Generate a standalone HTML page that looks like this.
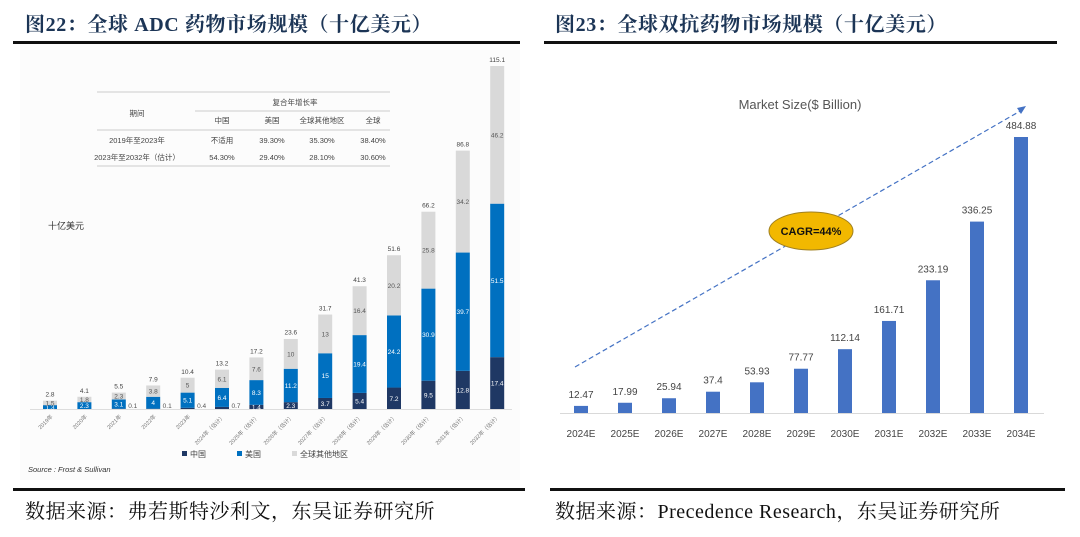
<!DOCTYPE html>
<html><head><meta charset="utf-8">
<style>
body{margin:0;width:1080px;height:537px;background:#fff;overflow:hidden;position:relative;font-family:"Liberation Serif","Noto Serif CJK SC",serif}
.t{position:absolute;font-weight:bold;font-size:20px;letter-spacing:0.6px;color:#1c3556;top:8px;white-space:nowrap}
.ln{position:absolute;height:3px;background:#111}
.f{position:absolute;top:495px;font-size:20px;letter-spacing:0.5px;color:#111;white-space:nowrap}
svg{position:absolute;left:0;top:0}
</style></head><body>
<div class="t" style="left:25px">图22：全球 ADC 药物市场规模（十亿美元）</div>
<div class="t" style="left:555px">图23：全球双抗药物市场规模（十亿美元）</div>
<div class="ln" style="left:13px;width:507px;top:41px"></div>
<div class="ln" style="left:544px;width:513px;top:41px"></div>
<div class="ln" style="left:13px;width:512px;top:488px"></div>
<div class="ln" style="left:550px;width:515px;top:488px"></div>
<div class="f" style="left:25px">数据来源：弗若斯特沙利文，东吴证券研究所</div>
<div class="f" style="left:555px">数据来源：Precedence Research，东吴证券研究所</div>
<svg id="s" width="1080" height="537" font-family="Liberation Sans, Noto Sans CJK SC, sans-serif">
<rect x="20" y="50" width="500" height="430" fill="#fcfcfc"/>
<g font-size="7.5" fill="#444" text-anchor="middle">
<line x1="97" y1="92" x2="390" y2="92" stroke="#ccc"/>
<line x1="195" y1="111" x2="390" y2="111" stroke="#ccc"/>
<line x1="97" y1="130" x2="390" y2="130" stroke="#ccc"/>
<line x1="97" y1="166" x2="390" y2="166" stroke="#ccc"/>
<text x="137" y="116">期间</text><text x="295" y="105">复合年增长率</text>
<text x="222" y="123">中国</text><text x="272" y="123">美国</text><text x="322" y="123">全球其他地区</text><text x="373" y="123">全球</text>
<text x="137" y="143">2019年至2023年</text><text x="222" y="143">不适用</text><text x="272" y="143">39.30%</text><text x="322" y="143">35.30%</text><text x="373" y="143">38.40%</text>
<text x="137" y="160">2023年至2032年（估计）</text><text x="222" y="160">54.30%</text><text x="272" y="160">29.40%</text><text x="322" y="160">28.10%</text><text x="373" y="160">30.60%</text>
</g>
<text x="48" y="229" font-size="9" fill="#333">十亿美元</text>
<line x1="30" y1="409.5" x2="512" y2="409.5" stroke="#ddd"/>
<g id="L"></g>
<g font-size="8" fill="#444">
<rect x="182" y="451" width="5" height="5" fill="#1f3864"/><text x="190" y="457">中国</text>
<rect x="237" y="451" width="5" height="5" fill="#0070c0"/><text x="245" y="457">美国</text>
<rect x="292" y="451" width="5" height="5" fill="#d9d9d9"/><text x="300" y="457">全球其他地区</text>
</g>
<text x="28" y="472" font-size="7.5" font-style="italic" fill="#333">Source :  Frost &amp; Sullivan</text>
<text x="800" y="109" font-size="13" fill="#555" text-anchor="middle">Market Size($ Billion)</text>
<line x1="560" y1="413.5" x2="1044" y2="413.5" stroke="#d9d9d9"/>
<g id="R"></g>
<line x1="575" y1="367" x2="1022" y2="110" stroke="#4472c4" stroke-dasharray="5,3" stroke-width="1.2"/>
<polygon points="1026,106 1017,108 1021,114" fill="#4472c4"/>
<ellipse cx="811" cy="231" rx="42" ry="19" fill="#f2b800" stroke="#a08020"/>
<text x="811" y="235" font-size="11" font-weight="bold" text-anchor="middle" fill="#111">CAGR=44%</text>
</svg>
<script>
const lYears=["2019年","2020年","2021年","2022年","2023年","2024年（估计）","2025年（估计）","2026年（估计）","2027年（估计）","2028年（估计）","2029年（估计）","2030年（估计）","2031年（估计）","2032年（估计）"];
const china=[0,0,0.1,0.1,0.4,0.7,1.4,2.3,3.7,5.4,7.2,9.5,12.8,17.4];
const usa=[1.3,2.3,3.1,4,5.1,6.4,8.3,11.2,15,19.4,24.2,30.9,39.7,51.5];
const other=[1.5,1.8,2.3,3.8,5,6.1,7.6,10,13,16.4,20.2,25.8,34.2,46.2];
const totals=[2.8,4.1,5.5,7.9,10.4,13.2,17.2,23.6,31.7,41.3,51.6,66.2,86.8,115.1];
const rYears=["2024E","2025E","2026E","2027E","2028E","2029E","2030E","2031E","2032E","2033E","2034E"];
const rVals=[12.47,17.99,25.94,37.4,53.93,77.77,112.14,161.71,233.19,336.25,484.88];
const NS="http://www.w3.org/2000/svg";
function mk(p,tag,a,txt){const e=document.createElementNS(NS,tag);for(const k in a)e.setAttribute(k,a[k]);if(txt!==undefined)e.textContent=txt;p.appendChild(e);return e;}
const L=document.getElementById('L');
const lx=i=>50+i*34.4, ly=v=>409-v*343/115.1;
lYears.forEach((y,i)=>{
  const x=lx(i)-7;let b=0;
  [[china[i],'#1f3864','china'],[usa[i],'#0070c0','usa'],[other[i],'#d9d9d9','other']].forEach(([v,c,n])=>{
    if(v<=0)return;
    const r=mk(L,'rect',{x:x,y:ly(b+v),width:14,height:ly(b)-ly(b+v),fill:c});
    
    
    const small=(n==='china'&&v<1);
    if(small){const t=mk(L,'text',{x:lx(i)+14,y:ly(0)-1,'font-size':6.5,fill:'#555','text-anchor':'middle'},String(v));
      }
    else if(v>=1.3){const t=mk(L,'text',{x:lx(i),y:(ly(b)+ly(b+v))/2+2.5,'font-size':6.5,fill:n==='other'?'#555':'#fff','text-anchor':'middle'},String(v));
      }
    b+=v;
  });
  const t=mk(L,'text',{x:lx(i),y:ly(totals[i])-4,'font-size':6.5,fill:'#444','text-anchor':'middle'},String(totals[i]));
  
  const a=mk(L,'text',{transform:`translate(${lx(i)+3},417) rotate(-45)`,'font-size':5.5,fill:'#777','text-anchor':'end'},y);
  
});
const R=document.getElementById('R');
const rx=i=>581+i*44, ry=v=>413-v*276/484.88;
rYears.forEach((y,i)=>{
  const r=mk(R,'rect',{x:rx(i)-7,y:ry(rVals[i]),width:14,height:413-ry(rVals[i]),fill:'#4472c4'});
  
  const t=mk(R,'text',{x:rx(i),y:ry(rVals[i])-8,'font-size':10,fill:'#444','text-anchor':'middle'},String(rVals[i]));
  
  const a=mk(R,'text',{x:rx(i),y:437,'font-size':10,fill:'#444','text-anchor':'middle'},y);
  
});
</script>
</body></html>
